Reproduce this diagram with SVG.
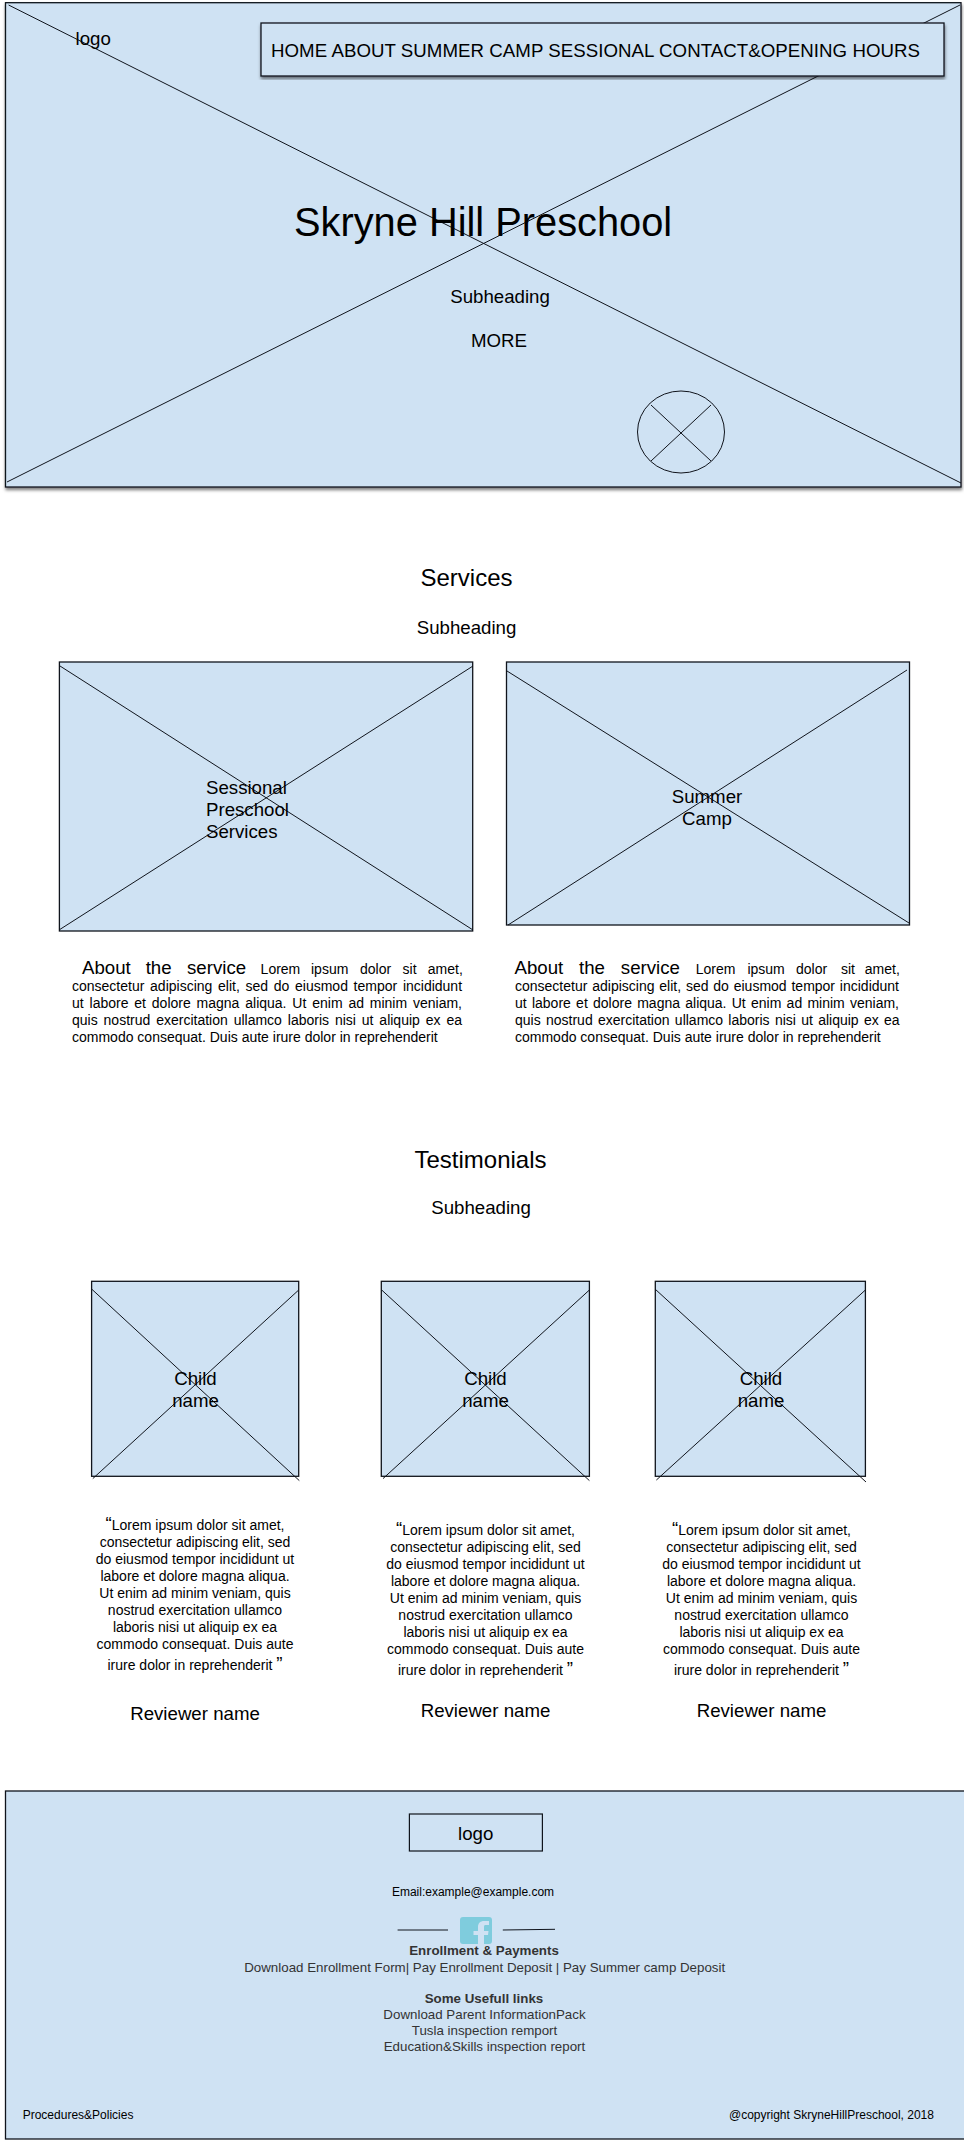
<svg xmlns="http://www.w3.org/2000/svg" width="964" height="2145" viewBox="0 0 964 2145">
<style>
text{font-family:"Liberation Sans",Arial,sans-serif;fill:#000}
.box{fill:#cfe2f3;stroke:#10141c;stroke-width:1.3}
.x{stroke:#10141c;stroke-width:1;fill:none}
.t40{font-size:39.8px}.t24{font-size:24px}.t19{font-size:18.67px}.t14{font-size:14px}.t13{font-size:13.33px;fill:#333}.t12{font-size:12px}
.b{font-weight:bold}.m{text-anchor:middle}
.q{font-size:18.67px}
</style>
<defs>
<filter id="sh" x="-2%" y="-2%" width="104%" height="108%"><feDropShadow dx="0.5" dy="2.5" stdDeviation="1.8" flood-color="#000" flood-opacity=".5"/></filter>
</defs>
<rect width="964" height="2145" fill="#fff"/>
<g id="hero">
<rect class="box" x="5.5" y="2.7" width="955.5" height="484.3" filter="url(#sh)"/>
</g>
<g id="connectors">
<path class="x" d="M8.6 5L961 483M960 5L7 482"/>
</g>
<g id="nav">
<rect class="box" x="261" y="23" width="683" height="53" filter="url(#sh)"/>
<text class="t19" x="271" y="57" textLength="649" lengthAdjust="spacing">HOME ABOUT SUMMER CAMP SESSIONAL CONTACT&amp;OPENING HOURS</text>
</g>
<g id="hero-text">
<text class="t19" x="75.500" y="44.500">logo</text>
<text class="t40" x="294" y="236">Skryne Hill Preschool</text>
<text class="t19 m" x="500" y="302.5">Subheading</text>
<text class="t19 m" x="499" y="346.5">MORE</text>
</g>
<g id="hero-button">
<ellipse cx="681" cy="432" rx="43.5" ry="41" fill="none" stroke="#10141c"/>
<path class="x" d="M651 405L711 461M711 405L651 461"/>
</g>
<g id="services-head">
<text class="t24 m" x="466.500" y="585.500">Services</text>
<text class="t19 m" x="466.500" y="634">Subheading</text>
</g>
<g id="service-1">
<rect class="box" x="59.400" y="662" width="413.300" height="269"/>
<path class="x" d="M60 666L473 930M473 666L59 930"/>
<text class="t19"><tspan x="206" y="794">Sessional</tspan><tspan x="206" y="816">Preschool</tspan><tspan x="206" y="838">Services</tspan></text>
</g>
<g id="service-2">
<rect class="box" x="506.500" y="662" width="403" height="263"/>
<path class="x" d="M507 671L909 923M907 670L508 925"/>
<text class="t19 m"><tspan x="707" y="803">Summer</tspan><tspan x="707" y="825">Camp</tspan></text>
</g>
<g id="service-text-1">
<text class="t14"><tspan class="t19" x="82" y="974">About</tspan><tspan class="t19" x="145.700" y="974">the</tspan><tspan class="t19" x="187" y="974">service</tspan><tspan x="260.600" y="974">Lorem</tspan><tspan x="311" y="974">ipsum</tspan><tspan x="360" y="974">dolor</tspan><tspan x="402.600" y="974">sit</tspan><tspan x="427.800" y="974">amet,</tspan></text>
<text class="t14" x="72" y="991" word-spacing="1.8">consectetur adipiscing elit, sed do eiusmod tempor incididunt</text>
<text class="t14" x="72" y="1008" word-spacing="1.96">ut labore et dolore magna aliqua. Ut enim ad minim veniam,</text>
<text class="t14" x="72" y="1025" word-spacing="2.0">quis nostrud exercitation ullamco laboris nisi ut aliquip ex ea</text>
<text class="t14" x="72" y="1042">commodo consequat. Duis aute irure dolor in reprehenderit</text>
</g>
<g id="service-text-2">
<text class="t14"><tspan class="t19" x="514.500" y="974">About</tspan><tspan class="t19" x="579" y="974">the</tspan><tspan class="t19" x="620.800" y="974">service</tspan><tspan x="695.800" y="974">Lorem</tspan><tspan x="747.400" y="974">ipsum</tspan><tspan x="796" y="974">dolor</tspan><tspan x="841" y="974">sit</tspan><tspan x="864.800" y="974">amet,</tspan></text>
<text class="t14" x="515" y="991" word-spacing=".94">consectetur adipiscing elit, sed do eiusmod tempor incididunt</text>
<text class="t14" x="515" y="1008" word-spacing="1.36">ut labore et dolore magna aliqua. Ut enim ad minim veniam,</text>
<text class="t14" x="515" y="1025" word-spacing="1.4">quis nostrud exercitation ullamco laboris nisi ut aliquip ex ea</text>
<text class="t14" x="515" y="1042">commodo consequat. Duis aute irure dolor in reprehenderit</text>
</g>
<g id="testimonials-head">
<text class="t24 m" x="480.500" y="1167.500">Testimonials</text>
<text class="t19 m" x="481" y="1214">Subheading</text>
</g>
<g id="child-1">
<rect class="box" x="91.600" y="1281.300" width="207.100" height="195"/>
<path class="x" d="M91.600 1289L299.300 1480.600M298.700 1290L92.800 1478.600"/>
<text class="t19 m"><tspan x="195.500" y="1385">Child</tspan><tspan x="195.500" y="1407">name</tspan></text>
</g>
<g id="child-2">
<rect class="box" x="381.300" y="1281.300" width="208.100" height="195"/>
<path class="x" d="M381.700 1290L589.400 1480.600M589.400 1290L383 1478.600"/>
<text class="t19 m"><tspan x="485.500" y="1385">Child</tspan><tspan x="485.500" y="1407">name</tspan></text>
</g>
<g id="child-3">
<rect class="box" x="655.300" y="1281.300" width="210.100" height="195"/>
<path class="x" d="M655 1289L866 1482M865.400 1290L656.400 1480"/>
<text class="t19 m"><tspan x="761" y="1385">Child</tspan><tspan x="761" y="1407">name</tspan></text>
</g>
<g id="quote-1">
<text class="t14 m"><tspan x="195" y="1530"><tspan class="q">“</tspan>Lorem ipsum dolor sit amet,</tspan><tspan x="195" y="1547">consectetur adipiscing elit, sed</tspan><tspan x="195" y="1564">do eiusmod tempor incididunt ut</tspan><tspan x="195" y="1581">labore et dolore magna aliqua.</tspan><tspan x="195" y="1598">Ut enim ad minim veniam, quis</tspan><tspan x="195" y="1615">nostrud exercitation ullamco</tspan><tspan x="195" y="1632">laboris nisi ut aliquip ex ea</tspan><tspan x="195" y="1649">commodo consequat. Duis aute</tspan><tspan x="195" y="1670">irure dolor in reprehenderit <tspan class="q">”</tspan></tspan></text>
<text class="t19 m" x="195" y="1719.500">Reviewer name</text>
</g>
<g id="quote-2">
<text class="t14 m"><tspan x="485.500" y="1535"><tspan class="q">“</tspan>Lorem ipsum dolor sit amet,</tspan><tspan x="485.500" y="1552">consectetur adipiscing elit, sed</tspan><tspan x="485.500" y="1569">do eiusmod tempor incididunt ut</tspan><tspan x="485.500" y="1586">labore et dolore magna aliqua.</tspan><tspan x="485.500" y="1603">Ut enim ad minim veniam, quis</tspan><tspan x="485.500" y="1620">nostrud exercitation ullamco</tspan><tspan x="485.500" y="1637">laboris nisi ut aliquip ex ea</tspan><tspan x="485.500" y="1654">commodo consequat. Duis aute</tspan><tspan x="485.500" y="1675">irure dolor in reprehenderit <tspan class="q">”</tspan></tspan></text>
<text class="t19 m" x="485.500" y="1717">Reviewer name</text>
</g>
<g id="quote-3">
<text class="t14 m"><tspan x="761.500" y="1535"><tspan class="q">“</tspan>Lorem ipsum dolor sit amet,</tspan><tspan x="761.500" y="1552">consectetur adipiscing elit, sed</tspan><tspan x="761.500" y="1569">do eiusmod tempor incididunt ut</tspan><tspan x="761.500" y="1586">labore et dolore magna aliqua.</tspan><tspan x="761.500" y="1603">Ut enim ad minim veniam, quis</tspan><tspan x="761.500" y="1620">nostrud exercitation ullamco</tspan><tspan x="761.500" y="1637">laboris nisi ut aliquip ex ea</tspan><tspan x="761.500" y="1654">commodo consequat. Duis aute</tspan><tspan x="761.500" y="1675">irure dolor in reprehenderit <tspan class="q">”</tspan></tspan></text>
<text class="t19 m" x="761.500" y="1717">Reviewer name</text>
</g>
<g id="footer">
<rect class="box" x="5.500" y="1791" width="960" height="348"/>
</g>
<g id="footer-logo">
<rect x="409.400" y="1814" width="133" height="37" fill="none" stroke="#10141c" stroke-width="1.2"/>
<text class="t19 m" x="475.700" y="1839.500">logo</text>
</g>
<g id="footer-text">
<text class="t12 m" x="473" y="1895.700">Email:example@example.com</text>
<text class="t13 b m" x="484" y="1955">Enrollment &amp; Payments</text>
<text class="t13 m" x="484.700" y="1971.700">Download Enrollment Form| Pay Enrollment Deposit | Pay Summer camp Deposit</text>
<text class="t13 b m" x="484" y="2003">Some Usefull links</text>
<text class="t13 m" x="484.500" y="2019">Download Parent InformationPack</text>
<text class="t13 m" x="484.500" y="2035">Tusla inspection remport</text>
<text class="t13 m" x="484.500" y="2051">Education&amp;Skills inspection report</text>
<text class="t12" x="22.700" y="2118.700">Procedures&amp;Policies</text>
<text class="t12" x="729" y="2118.700">@copyright SkryneHillPreschool, 2018</text>
</g>
<g id="footer-social">
<path class="x" d="M397.600 1930H448M502.800 1930L555 1929.300"/>
<rect x="460" y="1917" width="32" height="27" rx="3" fill="#7fccdd"/>
<path d="M478 1945V1935H473.500V1931H478V1927C478 1923 480.500 1921 484 1921H489V1925H485.500C484.500 1925 484 1925.600 484 1927V1931H488.500L488 1935H484V1945Z" fill="#cfe2f3"/>
</g>
</svg>
